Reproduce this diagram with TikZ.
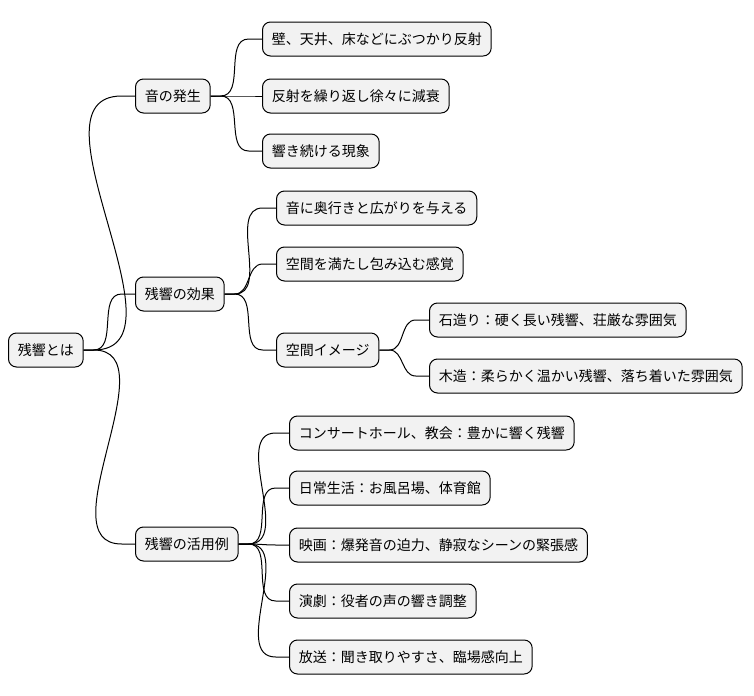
\documentclass[tikz,border=0pt]{standalone}
\usepackage{fontspec}
\setmainfont{Noto Sans CJK JP}
\begin{document}
\begin{tikzpicture}[x=0.75pt,y=-0.75pt,
  topic/.style={draw=black, fill=black!5, rounded corners=6pt, line width=0.75pt,
    anchor=west, minimum height=25.5pt, inner xsep=7pt, font=\fontsize{10.5}{12}\selectfont},
  link/.style={line width=0.75pt}]
\useasboundingbox (0,0) rectangle (754,696);
% root and branches
\node[topic] (root) at (8,350) {残響とは};
\node[topic] (gen) at (135,96) {音の発生};
\node[topic] (eff) at (135,294) {残響の効果};
\node[topic] (use) at (135,544) {残響の活用例};
% leaves of gen
\node[topic] (gen1) at (262,39) {壁、天井、床などにぶつかり反射};
\node[topic] (gen2) at (262,96) {反射を繰り返し徐々に減衰};
\node[topic] (gen3) at (262,151) {響き続ける現象};
% leaves of eff
\node[topic] (eff1) at (276,208) {音に奥行きと広がりを与える};
\node[topic] (eff2) at (276,264) {空間を満たし包み込む感覚};
\node[topic] (eff3) at (276,350) {空間イメージ};
\node[topic] (img1) at (429,320) {石造り：硬く長い残響、荘厳な雰囲気};
\node[topic] (img2) at (429,376) {木造：柔らかく温かい残響、落ち着いた雰囲気};
% leaves of use
\node[topic] (use1) at (289,433) {コンサートホール、教会：豊かに響く残響};
\node[topic] (use2) at (289,488) {日常生活：お風呂場、体育館};
\node[topic] (use3) at (289,545) {映画：爆発音の迫力、静寂なシーンの緊張感};
\node[topic] (use4) at (289,601) {演劇：役者の声の響き調整};
\node[topic] (use5) at (289,657) {放送：聞き取りやすさ、臨場感向上};
% connectors
\foreach \p/\c in {root/gen, root/eff, root/use, gen/gen1, gen/gen2, gen/gen3,
  eff/eff1, eff/eff2, eff/eff3, eff3/img1, eff3/img2,
  use/use1, use/use2, use/use3, use/use4, use/use5}
  \draw[link] (\p.east) -- ++(10,0) to[out=0,in=180] ([xshift=-10]\c.west) -- (\c.west);
\end{tikzpicture}
\end{document}
